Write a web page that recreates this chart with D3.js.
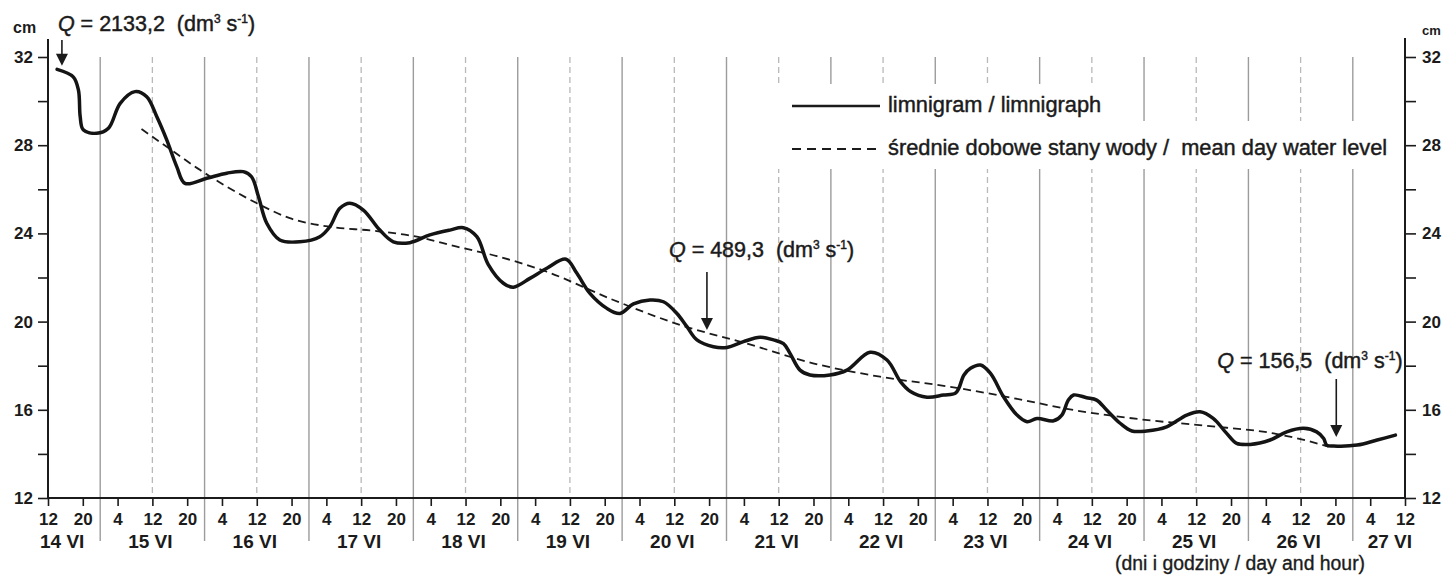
<!DOCTYPE html>
<html><head><meta charset="utf-8">
<script src="https://cdn.jsdelivr.net/npm/d3@7"></script>
<style>
html,body{margin:0;padding:0;background:#fff;}
svg{display:block;font-family:"Liberation Sans",Arial,Helvetica,sans-serif;}
text{white-space:pre;}
</style></head><body>
<svg id="chart" width="1445" height="578"></svg>
<script>
// ---------- DATA ----------
// time in hours since 14 VI 00:00, water level in cm
const limnHours = [14.1,17.8,19.0,19.4,20.1,23.2,25.9,28.6,32.0,34.7,37.0,39.3,41.6,43.5,48.5,53.1,56.9,58.8,60.4,62.3,65.3,69.9,74.5,76.8,79.1,81.4,84.5,88.3,91.4,95.2,99.8,104.4,107.5,110.6,113.2,116.7,119.0,122.8,126.7,131.1,133.6,136.6,140.5,143.5,146.6,150.4,153.5,156.6,158.9,161.2,165.0,168.1,171.9,175.7,178.8,181.1,182.6,184.9,187.2,191.8,195.7,201.0,204.9,208.0,210.3,214.1,217.9,220.6,221.4,222.6,224.1,226.4,228.7,231.7,234.8,237.1,239.4,243.2,245.1,246.6,247.8,250.8,253.1,255.4,258.5,261.2,264.6,269.2,273.8,276.9,279.9,283.0,285.3,288.4,293.0,296.8,300.7,303.7,305.3,306.0,307.6,313.0,317.6,321.8];
const limnLevels = [31.44,31.1,30.5,29.3,28.7,28.54,28.77,29.9,30.43,30.2,29.3,28.24,27.03,26.27,26.5,26.73,26.8,26.57,25.66,24.46,23.7,23.62,23.85,24.3,25.14,25.37,25.06,24.15,23.62,23.58,23.93,24.15,24.26,23.85,22.6,21.74,21.56,21.96,22.42,22.83,22.19,21.28,20.6,20.37,20.8,20.98,20.9,20.37,19.77,19.17,18.86,18.83,19.09,19.29,19.17,19.0,18.56,17.8,17.58,17.58,17.8,18.61,18.26,17.28,16.83,16.57,16.67,16.75,16.97,17.58,17.88,18.03,17.65,16.59,15.76,15.46,15.61,15.5,15.76,16.44,16.67,16.55,16.44,15.99,15.39,15.04,15.04,15.23,15.76,15.91,15.61,14.93,14.48,14.43,14.63,15.0,15.16,15.0,14.7,14.4,14.36,14.4,14.63,14.85];

const meanHours  = [33.5,39.3,47,53.1,60,67.6,76.8,86.8,96.8,106,115.2,126.7,142,157.3,172.6,187.9,203.3,220.2,232.4,247.8,263.1,278.5,293.8,301.4,306.4];
const meanLevels = [28.73,27.93,26.87,26.12,25.37,24.69,24.3,24.12,23.85,23.4,22.97,22.26,20.98,19.85,19.01,18.11,17.5,17.02,16.59,15.99,15.57,15.27,14.93,14.6,14.33];

const dayLabels = ["14 VI","15 VI","16 VI","17 VI","18 VI","19 VI","20 VI","21 VI","22 VI","23 VI","24 VI","25 VI","26 VI","27 VI"];
const hourTickValues = d3.range(12, 325, 8);           // every 8 h: 12, 20, 4, ...
const levelTickValues = d3.range(12, 33, 2);           // 12..32 cm
const levelLabelValues = [12,16,20,24,28,32];

const qValues = ["2133,2","489,3","156,5"];
const qHours  = [15.2,163.5,308.2];
const qLevels = [31.6,19.62,14.77];

const legendLabels = ["limnigram / limnigraph","średnie dobowe stany wody /  mean day water level"];
const xTitle = "(dni i godziny / day and hour)";
const yUnit = "cm";

// ---------- LAYOUT ----------
const svg = d3.select("#chart");
const X0 = 48, X1 = 1405, YTOP = 57, YBOT = 498;
const x = d3.scaleLinear().domain([12, 324]).range([X0, X1]);
const y = d3.scaleLinear().domain([12, 32]).range([YBOT, YTOP]);
const ink = "#1b1b1b";

// grid: midnight solid, noon dashed
const grid = svg.append("g");
for (let d = 1; d <= 13; d++) {
  grid.append("line").attr("x1", x(d*24)).attr("x2", x(d*24))
    .attr("y1", YTOP).attr("y2", 541)
    .attr("stroke", "#9c9c9c").attr("stroke-width", 1.4);
}
for (let d = 1; d <= 12; d++) {
  grid.append("line").attr("x1", x(d*24+12)).attr("x2", x(d*24+12))
    .attr("y1", YTOP).attr("y2", YBOT)
    .attr("stroke", "#b9b9b9").attr("stroke-width", 1.3)
    .attr("stroke-dasharray", "6,4");
}

// legend knockouts
svg.append("rect").attr("x", 770).attr("y", 84).attr("width", 340).attr("height", 38).attr("fill", "#fff");
svg.append("rect").attr("x", 770).attr("y", 121).attr("width", 626).attr("height", 48).attr("fill", "#fff");

// axes
const axB = d3.axisBottom(x).tickValues(hourTickValues).tickFormat(h => h % 24)
  .tickSize(8).tickSizeOuter(0).tickPadding(7);
const gB = svg.append("g").attr("transform", `translate(0,${YBOT})`).call(axB);
const axL = d3.axisLeft(y).tickValues(levelTickValues)
  .tickFormat(v => levelLabelValues.includes(v) ? v : "").tickSize(10).tickSizeOuter(0).tickPadding(5);
const gL = svg.append("g").attr("transform", `translate(${X0},0)`).call(axL);
const axR = d3.axisRight(y).tickValues(levelTickValues)
  .tickFormat(v => levelLabelValues.includes(v) ? v : "").tickSize(11).tickSizeOuter(0).tickPadding(6);
const gR = svg.append("g").attr("transform", `translate(${X1},0)`).call(axR);
[gB, gL, gR].forEach(g => {
  g.select(".domain").remove();
  g.selectAll(".tick line").attr("stroke", ink).attr("stroke-width", 1.6);
  g.selectAll(".tick text").attr("fill", ink).attr("font-size", 17).attr("font-weight", "bold")
    .attr("font-family", "Liberation Sans, Arial, sans-serif");
});
svg.append("line").attr("x1", X0).attr("x2", X0).attr("y1", 39).attr("y2", YBOT + 1).attr("stroke", ink).attr("stroke-width", 2);
svg.append("line").attr("x1", X1).attr("x2", X1).attr("y1", 38).attr("y2", YBOT + 1).attr("stroke", ink).attr("stroke-width", 2);
svg.append("line").attr("x1", X0 - 1).attr("x2", X1 + 1).attr("y1", YBOT).attr("y2", YBOT).attr("stroke", ink).attr("stroke-width", 2);

// day labels
dayLabels.forEach((lab, i) => {
  const t = svg.append("text").attr("y", 548).attr("fill", ink)
    .attr("font-size", 19).attr("font-weight", "bold").text(lab);
  if (i === 0) t.attr("x", X0 - 8).attr("text-anchor", "start");
  else if (i === dayLabels.length - 1) t.attr("x", X1 + 7).attr("text-anchor", "end");
  else t.attr("x", x(i*24 + 12) - 2).attr("text-anchor", "middle");
});
svg.append("text").attr("x", 1115).attr("y", 570).attr("fill", ink)
  .attr("font-size", 19.4).attr("stroke", ink).attr("stroke-width", 0.35).text(xTitle);

// unit labels
svg.append("text").attr("x", 13).attr("y", 33).attr("fill", ink).attr("font-size", 16).attr("font-weight", "bold").text(yUnit);
svg.append("text").attr("x", 1422).attr("y", 35).attr("fill", ink).attr("font-size", 13).attr("font-weight", "bold").text(yUnit);

// series
const lineLimn = d3.line().x(d => x(d[0])).y(d => y(d[1])).curve(d3.curveCatmullRom.alpha(0.5));
const lineMean = d3.line().x(d => x(d[0])).y(d => y(d[1])).curve(d3.curveMonotoneX);
svg.append("path").datum(meanHours.map((h, i) => [h, meanLevels[i]]))
  .attr("d", lineMean).attr("fill", "none").attr("stroke", ink)
  .attr("stroke-width", 1.8).attr("stroke-dasharray", "8,5");
svg.append("path").datum(limnHours.map((h, i) => [h, limnLevels[i]]))
  .attr("d", lineLimn).attr("fill", "none").attr("stroke", "#141414")
  .attr("stroke-width", 3.5).attr("stroke-linejoin", "round").attr("stroke-linecap", "round");

// legend
svg.append("line").attr("x1", 792).attr("x2", 880).attr("y1", 106).attr("y2", 106).attr("stroke", ink).attr("stroke-width", 2.4);
svg.append("line").attr("x1", 792).attr("x2", 880).attr("y1", 149).attr("y2", 149).attr("stroke", ink).attr("stroke-width", 2)
  .attr("stroke-dasharray", "9,6");
svg.append("text").attr("x", 888).attr("y", 112).attr("fill", ink).attr("font-size", 21.8)
  .attr("stroke", ink).attr("stroke-width", 0.45).text(legendLabels[0]);
svg.append("text").attr("x", 888).attr("y", 155).attr("fill", ink).attr("font-size", 21.8)
  .attr("stroke", ink).attr("stroke-width", 0.45).text(legendLabels[1]);

// Q annotations
const annLayout = [
  {dx: -4, base: 31, top: 40},
  {dx: -38, base: 257, top: 272},
  {dx: -119, base: 368, top: 379}
];
qValues.forEach((q, i) => {
  const ax = x(qHours[i]), tip = y(qLevels[i]), L = annLayout[i];
  svg.append("line").attr("x1", ax).attr("x2", ax).attr("y1", L.top).attr("y2", tip - 10)
    .attr("stroke", ink).attr("stroke-width", 1.6);
  svg.append("path").attr("d", `M${ax-6},${tip-12}L${ax+6},${tip-12}L${ax},${tip}Z`).attr("fill", ink);
  const t = svg.append("text").attr("x", ax + L.dx).attr("y", L.base).attr("fill", ink).attr("font-size", 21.5)
    .attr("stroke", ink).attr("stroke-width", 0.45);
  t.append("tspan").attr("font-style", "italic").text("Q");
  t.append("tspan").text(" = " + q + "  (dm");
  t.append("tspan").attr("font-size", 12).attr("dy", -8).text("3");
  t.append("tspan").attr("dy", 8).text(" s");
  t.append("tspan").attr("font-size", 12).attr("dy", -8).text("-1");
  t.append("tspan").attr("dy", 8).text(")");
});
</script>
</body></html>
